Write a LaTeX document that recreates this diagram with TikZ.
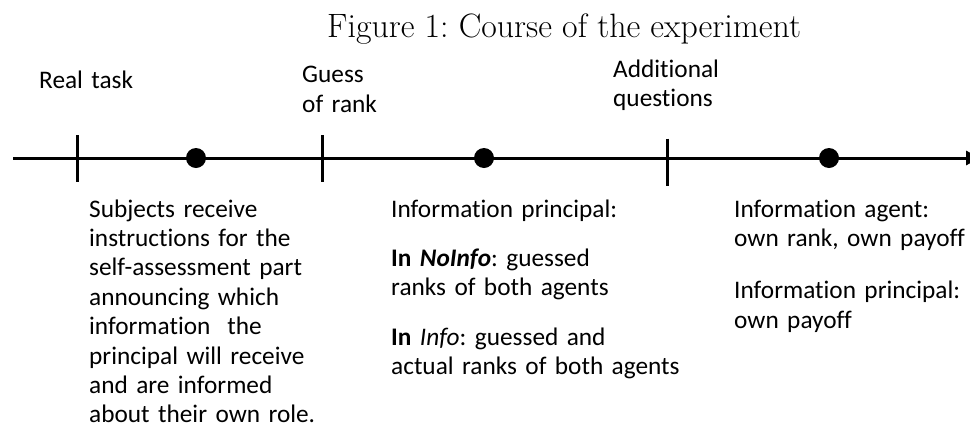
\documentclass[tikz,border=0pt]{standalone}
\usepackage{fontspec}
\newfontfamily\calibri[Ligatures={NoCommon}]{Carlito}
\usetikzlibrary{arrows.meta, positioning}
\frenchspacing

\begin{document}
\begin{tikzpicture}[
    x=1pt, y=-1pt,
    axis/.style={line width=3pt, -{Triangle[length=14pt, width=14pt]}},
    tick/.style={line width=3pt},
    dot/.style={circle, fill=black, minimum size=20pt, inner sep=0pt},
    note/.style={font=\calibri\fontsize{25.3}{29.4}\selectfont, anchor=base west, inner sep=0pt, align=left, text width=#1},
    note/.default=330pt
]
    \useasboundingbox (0,0) rectangle (970,432);

    % Title
    \node[font=\fontsize{33.8}{40}\selectfont, anchor=base west, inner sep=0pt] (title) at (327,37) {Figure 1: Course of the experiment};

    % Time line
    \coordinate (start) at (13,158);
    \coordinate (end) at (980,158);
    \draw[axis] (start) -- (end);

    % Ticks and dots on the line
    \coordinate (t1) at (77,158.5);
    \coordinate (t2) at (322,158.5);
    \coordinate (t3) at (667,162);
    \foreach \t in {t1, t2, t3}
        \draw[tick] ([yshift=23.5pt]\t) -- ([yshift=-23.5pt]\t);
    \node[dot] (d1) at (196,158) {};
    \node[dot] (d2) at (484,158) {};
    \node[dot] (d3) at (829,158) {};

    % Labels above the line
    \node[note=200pt] (realtask) at (39,88) {Real task};
    \node[note=200pt] (guess) at (302,82) {Guess\\[1pt]of rank};
    \node[note=200pt] (additional) at (613,77) {Additional\\questions};

    % Labels below the line
    \node[note=280pt] (subjects) at (89,217) {Subjects receive\\instructions for the\\self-assessment part\\announcing which\\information\ \ the\\principal will receive\\and are informed\\about their own role.};
    \node[note] (infoprincipal) at (391,217) {Information principal:\\[20pt]\textbf{In \textit{NoInfo}}: guessed\\ranks of both agents\\[20pt]\textbf{In} \textit{Info}: guessed and\\actual ranks of both agents};
    \node[note=240pt] (infoagent) at (734,217) {Information agent:\\own rank, own payoff\\[23pt]Information principal:\\own payoff};
\end{tikzpicture}
\end{document}
